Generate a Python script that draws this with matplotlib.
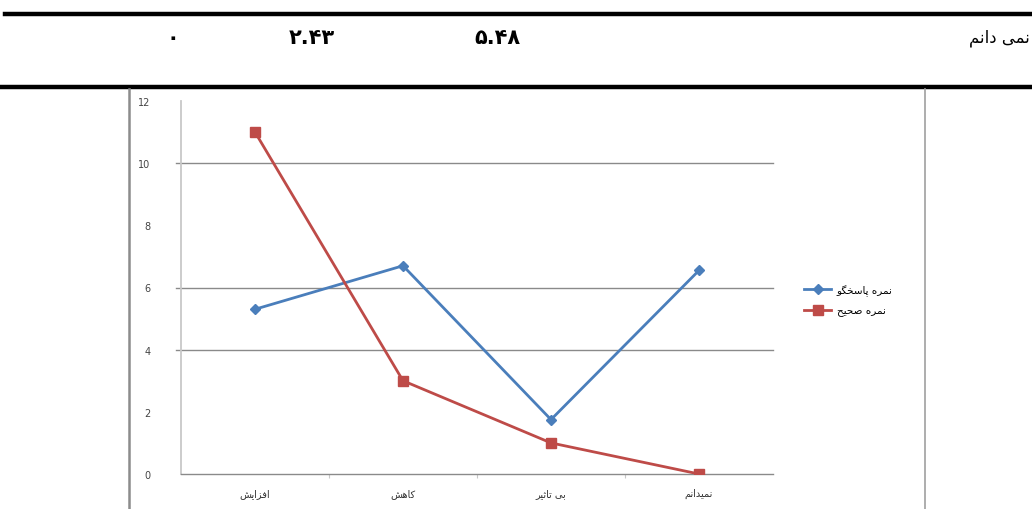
import matplotlib
matplotlib.use('Agg')
import matplotlib.pyplot as plt

# شکل‌های حروف: (تنها، پایانی، آغازی، میانی) - None برای حروفی که به بعد نمی‌چسبند
FORMS = {
    'ا': ('\uFE8D', '\uFE8E', None, None),
    'ب': ('\uFE8F', '\uFE90', '\uFE91', '\uFE92'),
    'پ': ('\uFB56', '\uFB57', '\uFB58', '\uFB59'),
    'ت': ('\uFE95', '\uFE96', '\uFE97', '\uFE98'),
    'ث': ('\uFE99', '\uFE9A', '\uFE9B', '\uFE9C'),
    'ح': ('\uFEA1', '\uFEA2', '\uFEA3', '\uFEA4'),
    'خ': ('\uFEA5', '\uFEA6', '\uFEA7', '\uFEA8'),
    'د': ('\uFEA9', '\uFEAA', None, None),
    'ر': ('\uFEAD', '\uFEAE', None, None),
    'ز': ('\uFEAF', '\uFEB0', None, None),
    'س': ('\uFEB1', '\uFEB2', '\uFEB3', '\uFEB4'),
    'ش': ('\uFEB5', '\uFEB6', '\uFEB7', '\uFEB8'),
    'ص': ('\uFEB9', '\uFEBA', '\uFEBB', '\uFEBC'),
    'ف': ('\uFED1', '\uFED2', '\uFED3', '\uFED4'),
    'ک': ('\uFB8E', '\uFB8F', '\uFB90', '\uFB91'),
    'گ': ('\uFB92', '\uFB93', '\uFB94', '\uFB95'),
    'م': ('\uFEE1', '\uFEE2', '\uFEE3', '\uFEE4'),
    'ن': ('\uFEE5', '\uFEE6', '\uFEE7', '\uFEE8'),
    'ه': ('\uFEE9', '\uFEEA', '\uFEEB', '\uFEEC'),
    'و': ('\uFEED', '\uFEEE', None, None),
    'ی': ('\uFBFC', '\uFBFD', '\uFBFE', '\uFBFF'),
}


def fa(text):
    # اتصال حروف فارسی و برگرداندن ترتیب برای نمایش راست به چپ
    out = []
    for i, ch in enumerate(text):
        if ch not in FORMS:
            out.append(ch)
            continue
        prev = text[i - 1] if i > 0 else ''
        nxt = text[i + 1] if i + 1 < len(text) else ''
        join_prev = prev in FORMS and FORMS[prev][2] is not None
        join_next = FORMS[ch][2] is not None and nxt in FORMS
        f = FORMS[ch]
        if join_prev and join_next:
            out.append(f[3])
        elif join_prev:
            out.append(f[1])
        elif join_next:
            out.append(f[2])
        else:
            out.append(f[0])
    return ''.join(reversed(out))


# داده‌ها
categories = ['افزایش', 'کاهش', 'بی تاثیر', 'نمیدانم']
respondent = [5.3, 6.7, 1.75, 6.55]
correct = [11, 3, 1, 0]
series_names = ['نمره پاسخگو', 'نمره صحیح']
header_values = ['۰', '۲.۴۳', '۵.۴۸']
header_label = 'نمی دانم'
y_ticks = [0, 2, 4, 6, 8, 10, 12]
grid_values = [4, 6, 10]

W, H = 1032, 510
fig = plt.figure(figsize=(W / 100, H / 100), dpi=100)

# سطر جدول بالای نمودار
fig.add_artist(plt.Line2D([5 / W, 1], [1 - 14.5 / H] * 2, color='black', lw=3.2))
fig.add_artist(plt.Line2D([0, 1], [1 - 87.5 / H] * 2, color='black', lw=3.2))
for x, v in zip([173, 312, 497], header_values):
    fig.text(x / W, 1 - 38 / H, v, ha='center', va='center', fontsize=15,
             fontweight='bold', family='DejaVu Sans')
fig.text(1030 / W, 1 - 38 / H, fa(header_label), ha='right', va='center',
         fontsize=12, family='DejaVu Sans')

# کادر نمودار
fig.add_artist(plt.Line2D([129 / W] * 2, [0, 1 - 90 / H], color='#8c8c8c', lw=1.8))
fig.add_artist(plt.Line2D([925 / W] * 2, [0, 1 - 90 / H], color='#a0a0a0', lw=1.2))

ax = fig.add_axes([181 / W, 1 - 475 / H, (773 - 181) / W, (475 - 102) / H])
x = [i + 0.5 for i in range(len(categories))]

for g in grid_values:
    ax.plot([-0.035, 4], [g, g], color='#8a8a8a', lw=1.0, clip_on=False, zorder=1)

ax.plot(x, respondent, color='#4a7ebb', lw=2.0, marker='D', markersize=5.5,
        label=fa(series_names[0]), zorder=3)
ax.plot(x, correct, color='#be4b48', lw=2.0, marker='s', markersize=7,
        label=fa(series_names[1]), zorder=3)

ax.set_xlim(0, 4)
ax.set_ylim(0, 12)
ax.set_yticks(y_ticks)
ax.set_yticklabels([str(v) for v in y_ticks])
ax.tick_params(axis='y', length=0, pad=22, labelsize=7, labelcolor='#444444')
ax.set_xticks([1, 2, 3])
ax.set_xticklabels([])
ax.set_xticks(x, minor=True)
ax.set_xticklabels([fa(c) for c in categories], minor=True)
ax.tick_params(axis='x', which='major', length=3, color='#c8c8c8', direction='out')
ax.tick_params(axis='x', which='minor', length=0, pad=10, labelsize=7,
               labelcolor='#333333')

for s in ['top', 'right']:
    ax.spines[s].set_visible(False)
ax.spines['left'].set_color('#c8c8c8')
ax.spines['left'].set_linewidth(1.3)
ax.spines['bottom'].set_color('#8a8a8a')
ax.spines['bottom'].set_linewidth(1.0)

ax.legend(loc='center left', bbox_to_anchor=(795 / W, 1 - 301 / H),
          bbox_transform=fig.transFigure, frameon=False, fontsize=7.5,
          handlelength=2.6, handletextpad=0.5, labelspacing=0.9)

plt.savefig('out.png', dpi=100)
